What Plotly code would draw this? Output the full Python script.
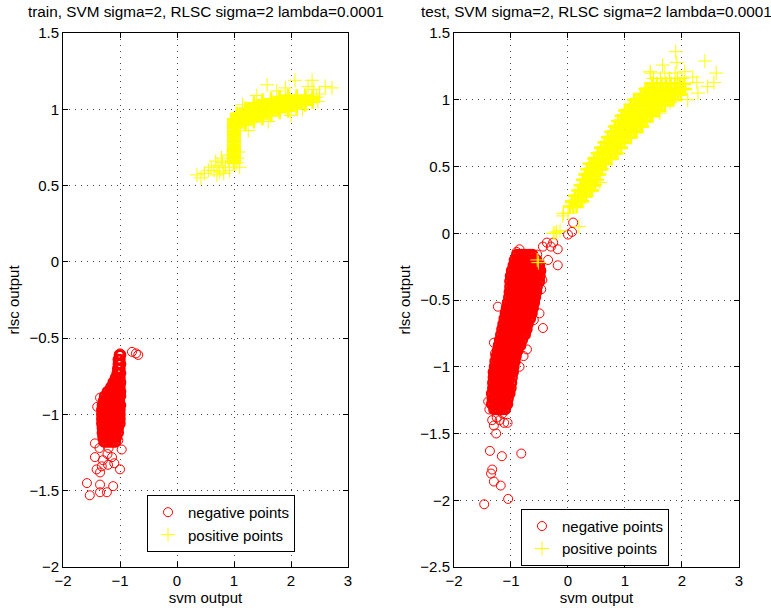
import plotly.graph_objects as go

# ---------------- data ----------------
# train, negative points -- dense core rows: (rlsc value, [svm values])
TRAIN_NEG_CORE = [
    (-0.61, [-1.01, -0.99]),
    (-0.64, [-1.03, -1.0]),
    (-0.67, [-1.03, -0.99]),
    (-0.70, [-1.04, -1.0]),
    (-0.73, [-1.05, -1.01, -0.99]),
    (-0.76, [-1.08, -1.04, -1.0]),
    (-0.79, [-1.12, -1.08, -1.04, -0.99]),
    (-0.82, [-1.16, -1.12, -1.08, -1.04, -1.0]),
    (-0.85, [-1.22, -1.18, -1.14, -1.1, -1.06, -1.02, -0.99]),
    (-0.88, [-1.27, -1.23, -1.19, -1.15, -1.11, -1.07, -1.03, -0.99]),
    (-0.91, [-1.29, -1.25, -1.21, -1.17, -1.13, -1.09, -1.05, -1.01]),
    (-0.94, [-1.31, -1.27, -1.23, -1.19, -1.15, -1.11, -1.07, -1.03, -0.99]),
    (-0.97, [-1.32, -1.28, -1.24, -1.2, -1.16, -1.12, -1.08, -1.04, -1.0]),
    (-1.00, [-1.32, -1.28, -1.24, -1.2, -1.16, -1.12, -1.08, -1.04, -1.0]),
    (-1.03, [-1.32, -1.28, -1.24, -1.2, -1.16, -1.12, -1.08, -1.04, -1.0]),
    (-1.06, [-1.32, -1.28, -1.24, -1.2, -1.16, -1.12, -1.08, -1.04, -1.0]),
    (-1.09, [-1.31, -1.27, -1.23, -1.19, -1.15, -1.11, -1.07, -1.03]),
    (-1.12, [-1.31, -1.27, -1.23, -1.19, -1.15, -1.11, -1.07, -1.03]),
    (-1.15, [-1.3, -1.26, -1.22, -1.18, -1.14, -1.1, -1.06]),
    (-1.18, [-1.28, -1.24, -1.2, -1.16, -1.12, -1.08]),
]
TRAIN_NEG_EXTRA = [
    (-0.79, -0.59), (-0.72, -0.6), (-0.68, -0.61), (-1.0, -0.6), (-1.4, -0.95),
    (-1.35, -0.89), (-1.12, -0.79), (-1.44, -1.19), (-1.36, -1.22), (-1.2, -1.22),
    (-1.03, -1.17), (-0.97, -1.23), (-1.44, -1.28), (-1.41, -1.36), (-1.32, -1.34),
    (-1.21, -1.33), (-1.3, -1.3), (-1.14, -1.28), (-1.0, -1.36), (-1.1, -1.32),
    (-1.58, -1.45), (-1.53, -1.53), (-1.35, -1.46), (-1.35, -1.51), (-1.23, -1.51),
    (-1.12, -1.47), (-1.35, -1.38), (-1.22, -1.26),
]

# train, positive points -- strip near svm=1: (rlsc value, [svm values])
TRAIN_POS_STRIP = [
    (0.650, [1.0]), (0.665, [1.0]), (0.680, [1.0]), (0.695, [1.0]), (0.710, [1.0]),
    (0.725, [1.0]), (0.740, [1.0]), (0.755, [1.0]), (0.770, [1.0]), (0.785, [1.0]),
    (0.800, [1.0]), (0.815, [1.0]), (0.830, [1.0]), (0.845, [1.0]), (0.860, [1.0]),
    (0.875, [1.0]), (0.890, [1.0]), (0.905, [1.0]), (0.920, [1.0]), (0.935, [1.0]),
]
# band columns: (svm value, [rlsc values])
TRAIN_POS_BAND = [
    (1.05, [0.88, 0.895, 0.91, 0.925, 0.94, 0.955, 0.97]),
    (1.20, [0.9, 0.915, 0.93, 0.945, 0.96, 0.975, 0.99, 1.005]),
    (1.35, [0.92, 0.935, 0.95, 0.965, 0.98, 0.995, 1.01, 1.025, 1.04]),
    (1.50, [0.94, 0.955, 0.97, 0.985, 1.0, 1.015, 1.03, 1.045, 1.06]),
    (1.65, [0.96, 0.975, 0.99, 1.005, 1.02, 1.035, 1.05, 1.065]),
    (1.80, [0.98, 0.995, 1.01, 1.025, 1.04, 1.055, 1.07, 1.08]),
    (1.95, [0.99, 1.005, 1.02, 1.035, 1.05, 1.065, 1.08, 1.09]),
    (2.10, [1.01, 1.025, 1.04, 1.055, 1.07, 1.085]),
    (2.25, [1.03, 1.045, 1.06, 1.075, 1.09]),
    (2.38, [1.05, 1.065, 1.08]),
]
TRAIN_POS_EXTRA = [
    (0.35, 0.57), (0.42, 0.55), (0.48, 0.58), (0.55, 0.6), (0.6, 0.62), (0.65, 0.6),
    (0.7, 0.57), (0.75, 0.59), (0.72, 0.63), (0.8, 0.65), (0.78, 0.68), (0.85, 0.62),
    (0.88, 0.7), (0.9, 0.66), (0.92, 0.6), (0.82, 0.58), (0.68, 0.66), (1.07, 0.68),
    (1.1, 0.62), (1.08, 0.72), (1.05, 0.65), (1.58, 1.16), (2.07, 1.19), (2.37, 1.19),
    (2.6, 1.15), (2.72, 1.14), (2.47, 1.05), (2.2, 1.0), (2.4, 1.13), (2.5, 1.1),
    (2.3, 1.15), (1.9, 1.14), (2.45, 1.08), (1.25, 0.86), (1.6, 0.92), (1.75, 1.12),
    (1.4, 1.09), (2.0, 0.96), (1.15, 1.03),
]

# test, negative points -- dense core rows
TEST_NEG_CORE = [
    (-1.32, [-1.3, -1.26, -1.22, -1.18, -1.14, -1.1]),
    (-1.28, [-1.34, -1.3, -1.26, -1.22, -1.18, -1.14, -1.1, -1.06]),
    (-1.24, [-1.33, -1.29, -1.25, -1.21, -1.17, -1.13, -1.09, -1.05]),
    (-1.20, [-1.34, -1.3, -1.26, -1.22, -1.18, -1.14, -1.1, -1.06, -1.02]),
    (-1.16, [-1.32, -1.28, -1.24, -1.2, -1.16, -1.12, -1.08, -1.04, -1.0]),
    (-1.12, [-1.32, -1.28, -1.24, -1.2, -1.16, -1.12, -1.08, -1.04, -0.99]),
    (-1.08, [-1.31, -1.27, -1.23, -1.19, -1.15, -1.11, -1.07, -1.03, -0.98]),
    (-1.04, [-1.31, -1.27, -1.23, -1.19, -1.15, -1.11, -1.07, -1.03, -0.99, -0.96]),
    (-1.00, [-1.29, -1.25, -1.21, -1.17, -1.13, -1.09, -1.05, -1.01, -0.97, -0.95]),
    (-0.96, [-1.28, -1.24, -1.2, -1.16, -1.12, -1.08, -1.04, -1.0, -0.96, -0.93]),
    (-0.92, [-1.26, -1.22, -1.18, -1.14, -1.1, -1.06, -1.02, -0.98, -0.94, -0.91]),
    (-0.88, [-1.24, -1.2, -1.16, -1.12, -1.08, -1.04, -1.0, -0.96, -0.92, -0.88]),
    (-0.84, [-1.22, -1.18, -1.14, -1.1, -1.06, -1.02, -0.98, -0.94, -0.9, -0.86, -0.83]),
    (-0.80, [-1.2, -1.16, -1.12, -1.08, -1.04, -1.0, -0.96, -0.92, -0.88, -0.84, -0.8]),
    (-0.76, [-1.18, -1.14, -1.1, -1.06, -1.02, -0.98, -0.94, -0.9, -0.86, -0.82, -0.78, -0.75]),
    (-0.72, [-1.16, -1.12, -1.08, -1.04, -1.0, -0.96, -0.92, -0.88, -0.84, -0.8, -0.76, -0.72]),
    (-0.68, [-1.14, -1.1, -1.06, -1.02, -0.98, -0.94, -0.9, -0.86, -0.82, -0.78, -0.74, -0.7]),
    (-0.64, [-1.12, -1.08, -1.04, -1.0, -0.96, -0.92, -0.88, -0.84, -0.8, -0.76, -0.72, -0.68, -0.66]),
    (-0.60, [-1.1, -1.06, -1.02, -0.98, -0.94, -0.9, -0.86, -0.82, -0.78, -0.74, -0.7, -0.66, -0.63]),
    (-0.56, [-1.08, -1.04, -1.0, -0.96, -0.92, -0.88, -0.84, -0.8, -0.76, -0.72, -0.68, -0.64, -0.61]),
    (-0.52, [-1.06, -1.02, -0.98, -0.94, -0.9, -0.86, -0.82, -0.78, -0.74, -0.7, -0.66, -0.62, -0.59]),
    (-0.48, [-1.04, -1.0, -0.96, -0.92, -0.88, -0.84, -0.8, -0.76, -0.72, -0.68, -0.64, -0.6, -0.57]),
    (-0.44, [-1.03, -0.99, -0.95, -0.91, -0.87, -0.83, -0.79, -0.75, -0.71, -0.67, -0.63, -0.59, -0.55]),
    (-0.40, [-1.02, -0.98, -0.94, -0.9, -0.86, -0.82, -0.78, -0.74, -0.7, -0.66, -0.62, -0.58, -0.54]),
    (-0.36, [-1.02, -0.98, -0.94, -0.9, -0.86, -0.82, -0.78, -0.74, -0.7, -0.66, -0.62, -0.58, -0.54, -0.5]),
    (-0.32, [-1.01, -0.97, -0.93, -0.89, -0.85, -0.81, -0.77, -0.73, -0.69, -0.65, -0.61, -0.57, -0.53, -0.49]),
    (-0.28, [-0.99, -0.95, -0.91, -0.87, -0.83, -0.79, -0.75, -0.71, -0.67, -0.63, -0.59, -0.55, -0.51, -0.48]),
    (-0.24, [-0.96, -0.92, -0.88, -0.84, -0.8, -0.76, -0.72, -0.68, -0.64, -0.6, -0.56, -0.52, -0.5]),
    (-0.20, [-0.94, -0.9, -0.86, -0.82, -0.78, -0.74, -0.7, -0.66, -0.62, -0.58, -0.55]),
    (-0.16, [-0.9, -0.86, -0.82, -0.78, -0.74, -0.7, -0.66, -0.62]),
]
TEST_NEG_EXTRA = [
    (-0.9, -0.14), (-0.85, -0.12), (-0.54, -0.16), (-0.44, -0.1), (-0.37, -0.07),
    (-0.3, -0.1), (-0.26, -0.07), (-0.18, -0.24), (-0.18, -0.12), (-0.61, -0.24),
    (0.0, -0.01), (0.07, 0.01), (0.09, 0.08), (-0.45, -0.35), (-0.47, -0.42),
    (-0.5, -0.6), (-0.6, -0.65), (-0.44, -0.71), (-1.23, -0.55), (-0.72, -0.87),
    (-0.78, -0.92), (-0.85, -1.0), (-1.37, -1.63), (-1.16, -1.67), (-0.82, -1.65),
    (-1.33, -1.77), (-1.35, -1.8), (-1.3, -1.86), (-1.18, -1.89), (-1.05, -1.99),
    (-1.47, -2.03), (-1.26, -1.5), (-1.3, -1.44), (-1.38, -1.32), (-1.4, -1.26),
    (-1.12, -1.42), (-1.06, -1.42), (-1.2, -1.4), (-1.25, -1.38), (-1.15, -1.35),
    (-1.33, -1.4), (-1.3, -0.82), (-1.28, -0.9), (-1.32, -1.18), (-0.35, -0.2),
]

# test, positive points -- dense core rows
TEST_POS_CORE = [
    (0.20, [0.03, 0.09, 0.15]),
    (0.24, [0.07, 0.12, 0.17, 0.22, 0.25]),
    (0.28, [0.12, 0.17, 0.22, 0.27, 0.32]),
    (0.32, [0.18, 0.23, 0.28, 0.33, 0.38, 0.42]),
    (0.36, [0.22, 0.27, 0.32, 0.37, 0.42, 0.47]),
    (0.40, [0.26, 0.31, 0.36, 0.41, 0.46, 0.51]),
    (0.44, [0.3, 0.35, 0.4, 0.45, 0.5, 0.55]),
    (0.48, [0.34, 0.39, 0.44, 0.49, 0.54, 0.59]),
    (0.52, [0.38, 0.43, 0.48, 0.53, 0.58, 0.63, 0.66]),
    (0.56, [0.46, 0.51, 0.56, 0.61, 0.66, 0.71, 0.76]),
    (0.60, [0.52, 0.57, 0.62, 0.67, 0.72, 0.77, 0.82, 0.85]),
    (0.64, [0.58, 0.63, 0.68, 0.73, 0.78, 0.83, 0.88, 0.93]),
    (0.68, [0.64, 0.69, 0.74, 0.79, 0.84, 0.89, 0.94, 0.99]),
    (0.72, [0.7, 0.75, 0.8, 0.85, 0.9, 0.95, 1.0, 1.05, 1.1]),
    (0.76, [0.76, 0.81, 0.86, 0.91, 0.96, 1.01, 1.06, 1.11, 1.16, 1.2]),
    (0.80, [0.82, 0.87, 0.92, 0.97, 1.02, 1.07, 1.12, 1.17, 1.22, 1.27, 1.3]),
    (0.84, [0.88, 0.93, 0.98, 1.03, 1.08, 1.13, 1.18, 1.23, 1.28, 1.33, 1.38]),
    (0.88, [0.94, 0.99, 1.04, 1.09, 1.14, 1.19, 1.24, 1.29, 1.34, 1.39, 1.44, 1.48]),
    (0.92, [1.0, 1.05, 1.1, 1.15, 1.2, 1.25, 1.3, 1.35, 1.4, 1.45, 1.5, 1.55, 1.6]),
    (0.96, [1.1, 1.15, 1.2, 1.25, 1.3, 1.35, 1.4, 1.45, 1.5, 1.55, 1.6, 1.65, 1.7]),
    (1.00, [1.16, 1.21, 1.26, 1.31, 1.36, 1.41, 1.46, 1.51, 1.56, 1.61, 1.66, 1.71, 1.76, 1.81, 1.85]),
    (1.04, [1.28, 1.33, 1.38, 1.43, 1.48, 1.53, 1.58, 1.63, 1.68, 1.73, 1.78, 1.83, 1.88, 1.93, 1.98]),
    (1.08, [1.36, 1.41, 1.46, 1.51, 1.56, 1.61, 1.66, 1.71, 1.76, 1.81, 1.86, 1.91, 1.96, 2.01, 2.05]),
    (1.12, [1.48, 1.56, 1.64, 1.72, 1.8, 1.88, 1.96, 2.04]),
]
TEST_POS_EXTRA = [
    (1.5, 1.16), (1.62, 1.16), (1.78, 1.16), (1.92, 1.16), (2.0, 1.16),
    (1.45, 1.2), (1.7, 1.2), (1.88, 1.2),
    (1.89, 1.36), (1.91, 1.28), (1.66, 1.26), (2.4, 1.29), (2.6, 1.2), (2.56, 1.13),
    (2.28, 1.05), (2.26, 1.13), (2.05, 1.21), (1.44, 1.21), (1.39, 0.92), (1.21, 0.77),
    (0.88, 0.6), (0.56, 0.38), (0.3, 0.27), (-0.23, 0.0), (-0.08, 0.15), (0.07, 0.23),
    (1.61, 0.9), (1.79, 0.98), (2.1, 1.0), (2.19, 1.17), (2.45, 1.1),
    (-0.26, 0.0), (-0.2, 0.01), (-0.14, 0.02), (-0.09, 0.13), (0.04, 0.2), (0.19, 0.05),
    (-0.54, -0.2), (-0.52, -0.22), (0.0, 0.15),
]

TITLES = ["train, SVM sigma=2, RLSC sigma=2 lambda=0.0001",
          "test, SVM sigma=2, RLSC sigma=2 lambda=0.0001"]
X_TITLE = "svm output"
Y_TITLE = "rlsc output"
LEGEND_NAMES = ["negative points", "positive points"]


# ---------------- helpers ----------------
def rows_xy(rows):
    xs, ys = [], []
    for y, xl in rows:
        for x in xl:
            xs.append(x)
            ys.append(y)
    return xs, ys


def cols_xy(cols):
    xs, ys = [], []
    for x, yl in cols:
        for y in yl:
            xs.append(x)
            ys.append(y)
    return xs, ys


def pairs_xy(pairs):
    return [p[0] for p in pairs], [p[1] for p in pairs]


def combine(*parts):
    xs, ys = [], []
    for a, b in parts:
        xs += a
        ys += b
    return xs, ys


tr_neg_core = rows_xy(TRAIN_NEG_CORE)
tr_neg_ext = pairs_xy(TRAIN_NEG_EXTRA)
tr_pos_core = combine(rows_xy(TRAIN_POS_STRIP), cols_xy(TRAIN_POS_BAND))
tr_pos_ext = pairs_xy(TRAIN_POS_EXTRA)
te_neg_core = rows_xy(TEST_NEG_CORE)
te_neg_ext = pairs_xy(TEST_NEG_EXTRA)
te_pos_core = rows_xy(TEST_POS_CORE)
te_pos_ext = pairs_xy(TEST_POS_EXTRA)

FONT = "Liberation Sans, Arial, Helvetica, sans-serif"
FS = 15
RED = "#ff0000"
YEL = "#ffff00"


def neg_marker(w):
    return dict(symbol="circle-open", size=9, color=RED, line=dict(color=RED, width=w))


def pos_marker(w):
    return dict(symbol="cross-thin", size=10, color=YEL, line=dict(color=YEL, width=w))


fig = go.Figure()
for (core_n, ext_n, core_p, ext_p, xa, ya, lg) in [
    (tr_neg_core, tr_neg_ext, tr_pos_core, tr_pos_ext, "x", "y", "legend"),
    (te_neg_core, te_neg_ext, te_pos_core, te_pos_ext, "x2", "y2", "legend2"),
]:
    fig.add_trace(go.Scatter(x=ext_n[0], y=ext_n[1], mode="markers", marker=neg_marker(1),
                             name=LEGEND_NAMES[0], xaxis=xa, yaxis=ya, legend=lg))
    fig.add_trace(go.Scatter(x=core_n[0], y=core_n[1], mode="markers", marker=neg_marker(2.5),
                             name=LEGEND_NAMES[0], xaxis=xa, yaxis=ya, legend=lg,
                             showlegend=False))
    fig.add_trace(go.Scatter(x=ext_p[0], y=ext_p[1], mode="markers", marker=pos_marker(1),
                             name=LEGEND_NAMES[1], xaxis=xa, yaxis=ya, legend=lg))
    fig.add_trace(go.Scatter(x=core_p[0], y=core_p[1], mode="markers", marker=pos_marker(2.5),
                             name=LEGEND_NAMES[1], xaxis=xa, yaxis=ya, legend=lg,
                             showlegend=False))

axis_common = dict(
    showline=True, linecolor="black", linewidth=1, mirror="ticks",
    ticks="inside", ticklen=5, tickcolor="black", tickwidth=1,
    showgrid=True, gridcolor="#444444", griddash="1px,5px", gridwidth=1,
    zeroline=False, automargin=False,
    tickfont=dict(family=FONT, size=FS, color="black"),
    title_font=dict(family=FONT, size=FS, color="black"),
)

XD1 = [0.0, 0.4216]
XD2 = [0.5784, 1.0]

legend_common = dict(xanchor="left", yanchor="top", bgcolor="white",
                     bordercolor="black", borderwidth=1,
                     font=dict(family=FONT, size=FS, color="black"),
                     tracegroupgap=0, itemwidth=30)

fig.update_layout(
    width=771, height=610,
    margin=dict(l=63, r=32, t=33, b=43),
    paper_bgcolor="white", plot_bgcolor="white",
    font=dict(family=FONT, size=FS, color="black"),
    xaxis=dict(domain=XD1, range=[-2, 3], dtick=1, anchor="y",
               title=dict(text=X_TITLE, standoff=2), **axis_common),
    yaxis=dict(domain=[0, 1], range=[-2, 1.5], dtick=0.5, anchor="x",
               title=dict(text=Y_TITLE, standoff=6), **axis_common),
    xaxis2=dict(domain=XD2, range=[-2, 3], dtick=1, anchor="y2",
                title=dict(text=X_TITLE, standoff=2), **axis_common),
    yaxis2=dict(domain=[0, 1], range=[-2.5, 1.5], dtick=0.5, anchor="x2",
                title=dict(text=Y_TITLE, standoff=6), **axis_common),
    legend=dict(x=0.1243, y=0.135, **legend_common),
    legend2=dict(x=0.6775, y=0.109, **legend_common),
    showlegend=True,
    annotations=[
        dict(text=TITLES[0], x=(XD1[0] + XD1[1]) / 2, y=1, xref="paper", yref="paper",
             xanchor="center", yanchor="bottom", yshift=11, showarrow=False,
             font=dict(family=FONT, size=15.3, color="black")),
        dict(text=TITLES[1], x=(XD2[0] + XD2[1]) / 2, y=1, xref="paper", yref="paper",
             xanchor="center", yanchor="bottom", yshift=11, showarrow=False,
             font=dict(family=FONT, size=15.3, color="black")),
    ],
)

# remove the default 8px page margin so the figure fills the window exactly
fig.write_html("out.html", config={"displayModeBar": False},
               post_script="document.body.style.margin='0px';")
